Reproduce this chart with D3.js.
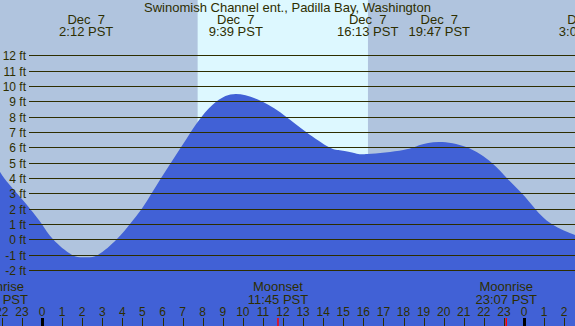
<!DOCTYPE html>
<html><head><meta charset="utf-8">
<script src="https://cdn.jsdelivr.net/npm/d3@7"></script>
<style>html,body{margin:0;padding:0;background:#b0c4de;overflow:hidden}svg{display:block}</style>
</head><body><svg id="c" width="575" height="326"></svg>
<script>
// Tide curve readings (hours from Dec 7 00:00, feet)
const tideHours = [-2.2,-2.09,-1.89,-1.25,-0.6,-0.01,0.55,1.48,2.14,2.80,3.72,4.38,4.97,5.46,5.93,6.42,6.92,7.41,7.95,8.70,9.65,10.94,12.15,13.15,14.30,14.90,15.59,16.22,17.99,18.82,19.78,21.15,22.39,23.14,23.89,24.55,25.38,26.54,27.08];
const tideFeet  = [4.6,4.4,4.0,3.0,2.0,1.0,0.0,-1.0,-1.17,-1.0,0.0,1.0,2.0,3.0,4.0,5.0,6.0,7.0,8.0,9.0,9.48,9.0,8.0,7.0,6.0,5.8,5.62,5.56,5.83,6.15,6.35,6.0,5.0,4.0,3.0,2.0,1.0,0.28,0.05];
// Tide extremes labels
const extremeHours = [2.2, 9.65, 16.217, 19.783, 27.083];
const extremeDates = ["Dec  7","Dec  7","Dec  7","Dec  7","Dec  8"];
const extremeTimes = ["2:12 PST","9:39 PST","16:13 PST","19:47 PST","3:05 PST"];
// Sun
const sunrise = 7.75, sunset = 16.23;
// Moon events
const moonHours = [-2.23, 11.75, 23.117];
const moonNames = ["Moonrise","Moonset","Moonrise"];
const moonTimes = ["21:46 PST","11:45 PST","23:07 PST"];
// Axis
const feetTicks = [-2,-1,0,1,2,3,4,5,6,7,8,9,10,11,12];
const hourTicks = d3.range(-2, 28);
const title = "Swinomish Channel ent., Padilla Bay, Washington";

const W = 575, H = 326;
const ink = "#2e2e00";
const font = "'Liberation Sans', Arial, sans-serif";
const svg = d3.select("#c");
const x = d3.scaleLinear().domain([0,24]).range([42,524]);
const y = d3.scaleLinear().domain([-2,12]).range([270,55.3]);

svg.append("rect").attr("width",W).attr("height",H).attr("fill","#b0c4de");
svg.append("rect").attr("x",x(sunrise)).attr("y",0).attr("width",x(sunset)-x(sunrise)).attr("height",H).attr("fill","#ddf8ff");

const pts = tideHours.map((h,i)=>[h,tideFeet[i]]);
const area = d3.area().x(d=>x(d[0])).y0(H).y1(d=>y(d[1])).curve(d3.curveNatural);
svg.append("path").datum(pts).attr("d",area).attr("fill","#4161d6");

// grid
svg.selectAll("line.g").data(feetTicks).join("line")
  .attr("x1",29).attr("x2",W).attr("y1",d=>Math.round(y(d))+0.5).attr("y2",d=>Math.round(y(d))+0.5)
  .attr("stroke",ink).attr("stroke-width",1);
svg.selectAll("text.f").data(feetTicks).join("text")
  .attr("x",26).attr("y",d=>Math.round(y(d))+4.5).attr("text-anchor","end")
  .attr("font-family",font).attr("font-size",12).attr("fill",ink).text(d=>d+" ft");

// title
svg.append("text").attr("x",287.5).attr("y",12).attr("text-anchor","middle")
  .attr("font-family",font).attr("font-size",13).attr("fill",ink).text(title);

// extremes
extremeHours.forEach((h,i)=>{
  svg.append("text").attr("x",x(h)).attr("y",24).attr("text-anchor","middle")
    .attr("font-family",font).attr("font-size",13).attr("fill",ink).attr("xml:space","preserve")
    .style("white-space","pre").text(extremeDates[i]);
  svg.append("text").attr("x",x(h)).attr("y",36).attr("text-anchor","middle")
    .attr("font-family",font).attr("font-size",13).attr("fill",ink).text(extremeTimes[i]);
});

// moon
moonHours.forEach((h,i)=>{
  svg.append("text").attr("x",x(h)).attr("y",291).attr("text-anchor","middle")
    .attr("font-family",font).attr("font-size",13).attr("fill",ink).text(moonNames[i]);
  svg.append("text").attr("x",x(h)).attr("y",303.5).attr("text-anchor","middle")
    .attr("font-family",font).attr("font-size",13).attr("fill",ink).text(moonTimes[i]);
});

// hour ticks
svg.selectAll("line.h").data(hourTicks).join("line")
  .attr("x1",d=>Math.round(x(d))+0.5).attr("x2",d=>Math.round(x(d))+0.5)
  .attr("y1",318).attr("y2",H)
  .attr("stroke",d=>(d%24===0)?"#000":ink).attr("stroke-width",d=>(d%24===0)?3:1);
svg.selectAll("text.h").data(hourTicks).join("text")
  .attr("x",d=>x(d)).attr("y",316).attr("text-anchor","middle")
  .attr("font-family",font).attr("font-size",12).attr("fill",ink)
  .text(d=>((d%24)+24)%24);
svg.selectAll("line.m").data(moonHours).join("line")
  .attr("x1",d=>x(d)).attr("x2",d=>x(d)).attr("y1",318).attr("y2",H)
  .attr("stroke","#ff0000").attr("stroke-width",1.5);
</script></body></html>
